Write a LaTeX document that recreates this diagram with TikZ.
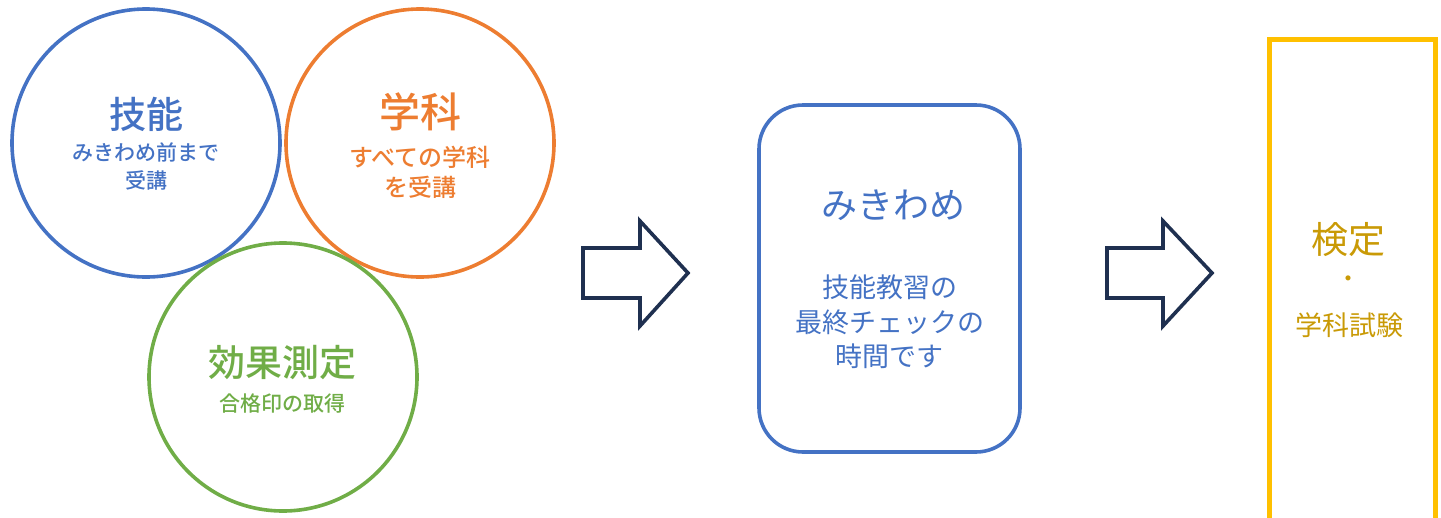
\documentclass[tikz,border=0pt]{standalone}
\usepackage{fontspec}
\setmainfont{Noto Sans CJK JP}[BoldFont={Noto Sans CJK JP Bold}]
\newfontfamily\jpmed{Noto Sans CJK JP Medium}
\definecolor{cblue}{HTML}{4472C4}
\definecolor{corange}{HTML}{ED7D31}
\definecolor{cgreen}{HTML}{70AD47}
\definecolor{cyellow}{HTML}{FFC000}
\definecolor{cgold}{HTML}{C99A06}
\definecolor{cnavy}{HTML}{1F3050}
\tikzset{
  ring/.style={circle, draw, line width=3.6pt, minimum size=268pt, inner sep=0pt},
  title/.style={font=\jpmed\fontsize{37}{40}\selectfont, inner sep=0pt},
  sub/.style={font=\jpmed\fontsize{21}{28}\selectfont, align=center, inner sep=0pt},
  flow/.style={draw=cnavy, line width=3.6pt, line join=miter},
  boxtitle/.style={font=\fontsize{36}{40}\selectfont, text=cblue, inner sep=0pt},
  boxtext/.style={font=\fontsize{27}{34.5}\selectfont, text=cblue, align=center, inner sep=0pt},
}
\begin{document}
\begin{tikzpicture}[x=1pt,y=-1pt]
\useasboundingbox (0,0) rectangle (1441,517);
\clip (0,0) rectangle (1441,517);
% circles
\node[ring, draw=cblue] (skill) at (146,143) {};
\node[ring, draw=corange] (study) at (420,143) {};
\node[ring, draw=cgreen] (test) at (283,377) {};
\node[title, text=cblue] (skillT) at (146,114) {技能};
\node[sub, text=cblue] (skillS) at (146,166) {みきわめ前まで\\受講};
\node[title, text=corange, font=\jpmed\fontsize{41}{44}\selectfont] (studyT) at (420,112) {学科};
\node[sub, text=corange, font=\jpmed\fontsize{24}{30}\selectfont] (studyS) at (420,172) {すべての学科\\を受講};
\node[title, text=cgreen] (testT) at (282,363) {効果測定};
\node[sub, text=cgreen] (testS) at (282,404) {合格印の取得};
% arrow 1
\draw[flow] (583,248) -- (640,248) -- (640,221) -- (688,273) -- (640,326) -- (640,298) -- (583,298) -- cycle;
% mikiwame box
\node[draw=cblue, line width=3.6pt, rounded corners=44pt, minimum width=261pt, minimum height=347pt, inner sep=0pt] (check) at (889.5,278.5) {};
\node[boxtitle] (checkT) at (893,205) {みきわめ};
\node[boxtext] (checkS) at (889.5,322) {技能教習の\\最終チェックの\\時間です};
% arrow 2
\draw[flow] (1107,248) -- (1163,248) -- (1163,221) -- (1212,273) -- (1163,326) -- (1163,298) -- (1107,298) -- cycle;
% final box
\node[draw=cyellow, line width=4.5pt, minimum width=166pt, minimum height=520pt, inner sep=0pt, anchor=north west] (exam) at (1267,37) {};
\node[font=\fontsize{37}{40}\selectfont, text=cgold, inner sep=0pt] (examT) at (1348,240) {検定};
\node[font=\fontsize{24}{26}\selectfont, text=cgold, inner sep=0pt] (examD) at (1348,282) {・};
\node[font=\fontsize{27}{30}\selectfont, text=cgold, inner sep=0pt] (examS) at (1349,325) {学科試験};
\end{tikzpicture}
\end{document}
